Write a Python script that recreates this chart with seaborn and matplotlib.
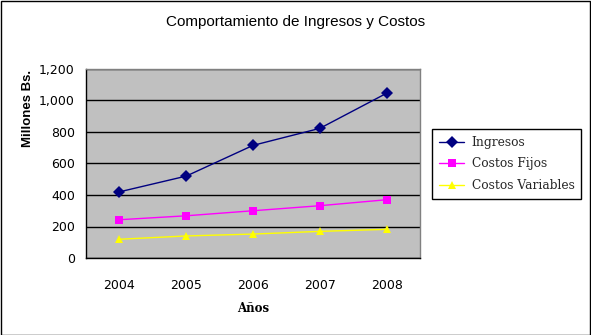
import matplotlib
matplotlib.use("Agg")
import matplotlib.pyplot as plt
import seaborn as sns
import pandas as pd
from matplotlib.patches import Rectangle
from matplotlib.ticker import FuncFormatter

years = ["2004", "2005", "2006", "2007", "2008"]
ingresos = [420, 520, 715, 823, 1046]
costos_fijos = [243, 268, 300, 332, 370]
costos_variables = [119, 140, 152, 169, 182]
series_names = ["Ingresos", "Costos Fijos", "Costos Variables"]
colors = ["#000080", "#FF00FF", "#FFFF00"]
markers = ["D", "s", "^"]

df = pd.DataFrame({
    "Año": years * 3,
    "Valor": ingresos + costos_fijos + costos_variables,
    "Serie": [series_names[0]] * 5 + [series_names[1]] * 5 + [series_names[2]] * 5,
})

sns.set_theme(style="white")
plt.rcParams["font.family"] = ["DejaVu Sans"]

fig = plt.figure(figsize=(5.91, 3.35), dpi=100)
ax = fig.add_axes([86 / 591, 1 - 258 / 335, (420 - 86) / 591, (258 - 69) / 335])
ax.set_facecolor("#C0C0C0")

sns.lineplot(data=df, x="Año", y="Valor", hue="Serie", style="Serie",
             palette=colors, markers=markers, dashes=False, linewidth=1,
             markersize=6, markeredgewidth=0, ax=ax, legend=True)

ax.set_ylim(0, 1200)
ax.set_yticks(range(0, 1201, 200))
ax.yaxis.set_major_formatter(FuncFormatter(lambda v, p: f"{int(v):,}"))
ax.grid(axis="y", color="black", linewidth=1)
ax.set_axisbelow(True)
ax.set_xlim(-0.5, 4.5)
ax.set_xticks(range(5))
ax.set_xticklabels(years)
ax.set_xticks([i - 0.5 for i in range(6)], minor=True)
ax.tick_params(axis="x", which="major", length=0, pad=15, labelsize=9, colors="black")
ax.tick_params(axis="x", which="minor", length=4, width=1, direction="out", color="black")
ax.tick_params(axis="y", length=4, width=1, direction="out", color="black", labelsize=9, pad=4)
for lab in ax.get_yticklabels() + ax.get_xticklabels():
    lab.set_color("black")

ax.spines["left"].set_color("black")
ax.spines["bottom"].set_color("black")
ax.spines["top"].set_color("#808080")
ax.spines["right"].set_color("#808080")
for s in ax.spines.values():
    s.set_linewidth(1)
    s.set_visible(True)

ax.set_xlabel("")
ax.set_ylabel("")
fig.text(253 / 591, 1 - 308 / 335, "Años", ha="center", va="center", fontsize=8.5,
         fontweight="bold", family="DejaVu Serif", color="black")
fig.text(28 / 591, 1 - 108 / 335, "Millones Bs.", ha="center", va="center", rotation=90,
         fontsize=9.5, fontweight="bold", family="Liberation Sans", color="black")

handles, labels = ax.get_legend_handles_labels()
ax.legend(handles, labels, loc="center left", bbox_to_anchor=(432 / 591, 1 - 164 / 335),
          bbox_transform=fig.transFigure, frameon=True, fancybox=False, edgecolor="black",
          framealpha=1, prop={"family": "DejaVu Serif", "size": 8.8}, handlelength=2.1,
          borderpad=0.55, labelspacing=0.7, handletextpad=0.6, borderaxespad=0)
leg = ax.get_legend()
leg.get_frame().set_linewidth(1)

fig.text(0.5, 1 - 22 / 335, "Comportamiento de Ingresos y Costos", ha="center", va="center",
         fontsize=11, family="Liberation Sans", color="black")

fig.patches.append(Rectangle((0.5 / 591, 0.5 / 335), 589.5 / 591, 333.5 / 335, transform=fig.transFigure,
                             fill=False, edgecolor="black", linewidth=1))

fig.savefig("out.png", dpi=100, facecolor="white")
